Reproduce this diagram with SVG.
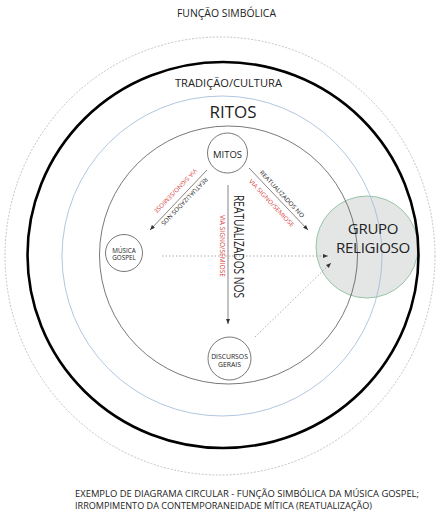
<svg xmlns="http://www.w3.org/2000/svg" width="438" height="532" viewBox="0 0 438 532">
<style>
text{font-family:"Open Sans","Liberation Sans",sans-serif;fill:#222;text-anchor:middle}
.red{fill:#d64545}
.node{fill:#fff;stroke:#555;stroke-width:0.8}
.sol{stroke:#666;stroke-width:0.8;fill:none}
.dot{stroke:#999;stroke-width:0.8;stroke-dasharray:1.5 2;fill:none}
</style>
<defs>
<marker id="ah" viewBox="0 0 10 10" refX="10" refY="5" markerWidth="5" markerHeight="5" orient="auto" markerUnits="userSpaceOnUse"><path d="M0,1 L10,5 L0,9 z" fill="#333"/></marker>
</defs>
<rect width="438" height="532" fill="#fff"/>
<g id="title"><text x="226.5" y="17" font-size="10" textLength="99" lengthAdjust="spacingAndGlyphs">FUNÇÃO SIMBÓLICA</text></g>
<g id="grupo-religioso">
<circle cx="367" cy="247" r="51" fill="#e4e6e6" stroke="#8dbf9d" stroke-width="0.9"/>
</g>
<g id="rings">
<ellipse cx="220" cy="256" rx="215" ry="219" fill="none" stroke="#aaa" stroke-width="0.7" stroke-dasharray="2 1.5"/>
<ellipse cx="223" cy="255" rx="195.5" ry="193" fill="none" stroke="#000" stroke-width="2.6"/>
<circle cx="222" cy="256" r="160" fill="none" stroke="#9db8d8" stroke-width="0.8"/>
<circle cx="228.5" cy="255" r="129" fill="none" stroke="#555" stroke-width="0.8"/>
</g>
<g id="labels">
<text x="228.5" y="87" font-size="11" textLength="107" lengthAdjust="spacingAndGlyphs">TRADIÇÃO/CULTURA</text>
<text x="233" y="118" font-size="17" textLength="47" lengthAdjust="spacingAndGlyphs">RITOS</text>
</g>
<g id="grupo-text">
<text x="373" y="233.5" font-size="15" letter-spacing="-0.3">GRUPO</text>
<text x="373" y="252.5" font-size="15" letter-spacing="-0.3" textLength="74" lengthAdjust="spacingAndGlyphs">RELIGIOSO</text>
</g>
<g id="mitos">
<circle class="node" cx="227.5" cy="153" r="20"/>
<text x="227.5" y="158" font-size="9.5">MITOS</text>
</g>
<g id="musica-gospel">
<circle class="node" cx="124" cy="253" r="18.5"/>
<text x="124" y="252.5" font-size="6.3">MÚSICA</text>
<text x="124" y="260" font-size="6.3">GOSPEL</text>
</g>
<g id="discursos-gerais">
<circle class="node" cx="229.5" cy="358.5" r="21.5"/>
<text x="229.5" y="359" font-size="6.8">DISCURSOS</text>
<text x="229.5" y="367" font-size="6.8">GERAIS</text>
</g>
<g id="connectors">
<line class="sol" x1="207" y1="170" x2="150" y2="230" marker-end="url(#ah)"/>
<line class="sol" x1="249" y1="168" x2="308" y2="230" marker-end="url(#ah)"/>
<line class="sol" x1="228" y1="185" x2="228" y2="324" marker-end="url(#ah)"/>
<line class="dot" x1="162" y1="256" x2="328" y2="256" marker-end="url(#ah)"/>
<line class="dot" x1="255" y1="337" x2="331" y2="263" marker-end="url(#ah)"/>
</g>
<g id="connector-labels">
<text class="red" transform="translate(175.5,191) rotate(134)" y="2.1" font-size="6" textLength="59" lengthAdjust="spacingAndGlyphs">VIA SIGNO/SEMIOSE</text>
<text transform="translate(184.5,201.5) rotate(134)" y="2.1" font-size="6" textLength="64" lengthAdjust="spacingAndGlyphs">REATUALIZADOS NOS</text>
<text transform="translate(282,194) rotate(47)" y="2.1" font-size="6" textLength="62" lengthAdjust="spacingAndGlyphs">REATUALIZADOS NO</text>
<text class="red" transform="translate(271.5,203) rotate(47)" y="2.1" font-size="6" textLength="63" lengthAdjust="spacingAndGlyphs">VIA SIGNO/SEMIOSE</text>
<text transform="translate(238.5,246.5) rotate(90)" y="5" font-size="14" textLength="103" lengthAdjust="spacingAndGlyphs">REATUALIZADOS NOS</text>
<text class="red" transform="translate(222,246) rotate(90)" y="2.5" font-size="7" textLength="62" lengthAdjust="spacingAndGlyphs">VIA SIGNO/SEMIOSE</text>
</g>
<g id="caption">
<text x="75" y="497" font-size="9.5" style="text-anchor:start" textLength="344" lengthAdjust="spacingAndGlyphs">EXEMPLO DE DIAGRAMA CIRCULAR - FUNÇÃO SIMBÓLICA DA MÚSICA GOSPEL;</text>
<text x="75" y="509" font-size="9.5" style="text-anchor:start" textLength="297" lengthAdjust="spacingAndGlyphs">IRROMPIMENTO DA CONTEMPORANEIDADE MÍTICA (REATUALIZAÇÃO)</text>
</g>
</svg>
